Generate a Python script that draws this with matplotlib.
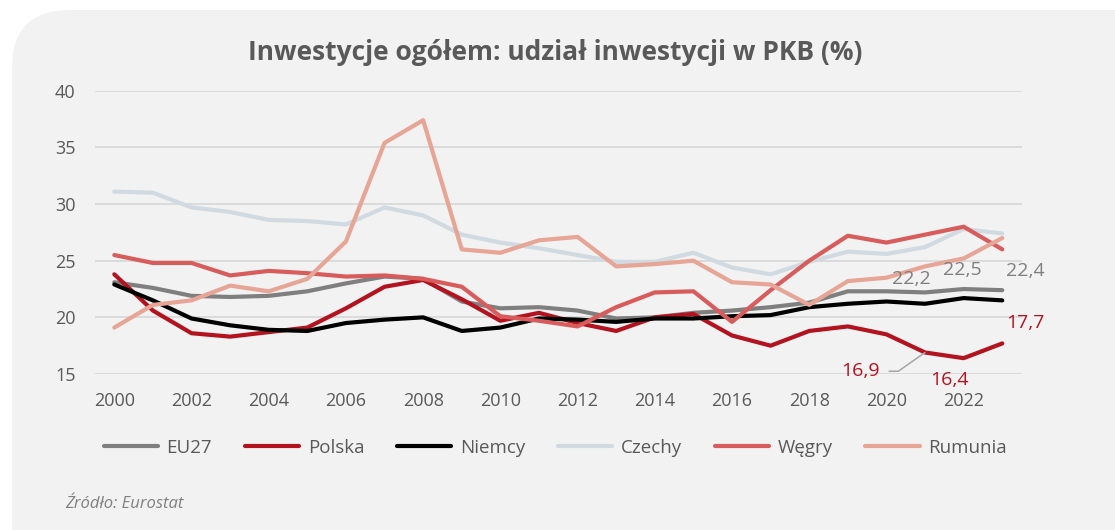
import numpy as np
import matplotlib
matplotlib.use("Agg")
import matplotlib.pyplot as plt
from matplotlib.patches import FancyBboxPatch, Rectangle
from matplotlib.transforms import IdentityTransform

plt.rcParams["font.family"] = ["Open Sans", "DejaVu Sans"]

years = list(range(2000, 2024))

eu27 = [23.1, 22.6, 21.9, 21.8, 21.9, 22.3, 23.0, 23.6, 23.4, 21.4, 20.8, 20.9,
        20.6, 19.9, 20.0, 20.4, 20.6, 20.9, 21.3, 22.3, 22.3, 22.2, 22.5, 22.4]
polska = [23.8, 20.6, 18.6, 18.3, 18.7, 19.1, 20.8, 22.7, 23.3, 21.6, 19.7, 20.4,
          19.5, 18.8, 20.0, 20.3, 18.4, 17.5, 18.8, 19.2, 18.5, 16.9, 16.4, 17.7]
niemcy = [22.9, 21.5, 19.9, 19.3, 18.9, 18.8, 19.5, 19.8, 20.0, 18.8, 19.1, 19.9,
          19.8, 19.6, 19.9, 19.9, 20.1, 20.2, 20.9, 21.2, 21.4, 21.2, 21.7, 21.5]
czechy = [31.1, 31.0, 29.7, 29.3, 28.6, 28.5, 28.2, 29.7, 29.0, 27.3, 26.6, 26.1,
          25.5, 24.9, 24.9, 25.7, 24.4, 23.8, 24.9, 25.8, 25.6, 26.2, 27.8, 27.4]
wegry = [25.5, 24.8, 24.8, 23.7, 24.1, 23.9, 23.6, 23.7, 23.4, 22.7, 20.1, 19.7,
         19.2, 20.9, 22.2, 22.3, 19.6, 22.4, 25.0, 27.2, 26.6, 27.3, 28.0, 26.0]
rumunia = [19.1, 21.1, 21.5, 22.8, 22.3, 23.4, 26.7, 35.4, 37.4, 26.0, 25.7, 26.8,
           27.1, 24.5, 24.7, 25.0, 23.1, 22.9, 21.1, 23.2, 23.5, 24.5, 25.2, 27.0]

series = [
    ("EU27", eu27, "#7f7f7f"),
    ("Polska", polska, "#b3121f"),
    ("Niemcy", niemcy, "#000000"),
    ("Czechy", czechy, "#d0dae0"),
    ("Węgry", wegry, "#d95c5c"),
    ("Rumunia", rumunia, "#e6a595"),
]

TXT = "#595959"
GRAY = "#7f7f7f"
RED = "#b3121f"
PANEL = "#f2f2f2"

fig = plt.figure(figsize=(11.15, 5.3), dpi=100)
fig.patch.set_facecolor("white")

# light panel: rounded top-left and bottom-right corners only
px = IdentityTransform()
fig.add_artist(FancyBboxPatch((12, -12), 1120, 532, boxstyle="round,pad=0,rounding_size=58",
                              facecolor=PANEL, edgecolor="none", transform=px, zorder=0))
fig.add_artist(Rectangle((600, 300), 540, 220, facecolor=PANEL, edgecolor="none",
                         transform=px, zorder=0))
fig.add_artist(Rectangle((12, -12), 500, 200, facecolor=PANEL, edgecolor="none",
                         transform=px, zorder=0))

ax = fig.add_axes([0.0852, 0.2943, 0.8310, 0.5345])
ax.set_facecolor("none")

for name, vals, col in series:
    ax.plot(years, vals, color=col, lw=3.0, label=name, solid_capstyle="round",
            solid_joinstyle="round")

ax.set_xlim(1999.5, 2023.5)
ax.set_ylim(15, 40)
ax.set_yticks(range(15, 41, 5))
ax.set_xticks(range(2000, 2023, 2))
ax.yaxis.grid(True, color="#d9d9d9", lw=1.3)
ax.set_axisbelow(True)
for s in ax.spines.values():
    s.set_visible(False)
ax.tick_params(axis="both", length=0, labelsize=13, labelcolor=TXT)
ax.tick_params(axis="y", pad=14)
ax.tick_params(axis="x", pad=13)

# value labels
lab = dict(fontsize=14, textcoords="offset points")
ax.annotate("22,4", (2023, eu27[-1]), xytext=(3, 13.5), ha="left", va="center",
            color=GRAY, **lab)
ax.annotate("22,5", (2022, eu27[-2]), xytext=(-1, 13.4), ha="center", va="center",
            color=GRAY, **lab)
ax.annotate("22,2", (2021, eu27[-3]), xytext=(-9.5, 9.6), ha="center", va="center",
            color=GRAY, **lab)
ax.annotate("17,7", (2023, polska[-1]), xytext=(3, 15), ha="left", va="center",
            color=RED, **lab)
ax.annotate("16,4", (2022, polska[-2]), xytext=(-10.4, -15.4), ha="center", va="center",
            color=RED, **lab)
ax.annotate("16,9", (2021, polska[-3]), xytext=(-46.7, -13.5), ha="center", va="center",
            color=RED, fontsize=14, textcoords="offset points",
            arrowprops=dict(arrowstyle="-", color="#a6a6a6", lw=1.1,
                            connectionstyle="angle,angleA=0,angleB=35,rad=0",
                            shrinkA=5, shrinkB=0))

fig.text(0.498, 1 - 52 / 530, "Inwestycje ogółem: udział inwestycji w PKB (%)",
         ha="center", va="center", fontsize=19, fontweight="bold", color=TXT)

fig.legend(loc="center", bbox_to_anchor=(0.498, 1 - 448 / 530), ncol=6, frameon=False,
           fontsize=13.5, handlelength=2.9, handletextpad=0.45, columnspacing=1.75,
           labelcolor=TXT)

fig.text(65 / 1115, 1 - 504 / 530, "Źródło: Eurostat", ha="left", va="center",
         fontsize=12, style="italic", color=GRAY)

fig.savefig("out.png", dpi=100)
